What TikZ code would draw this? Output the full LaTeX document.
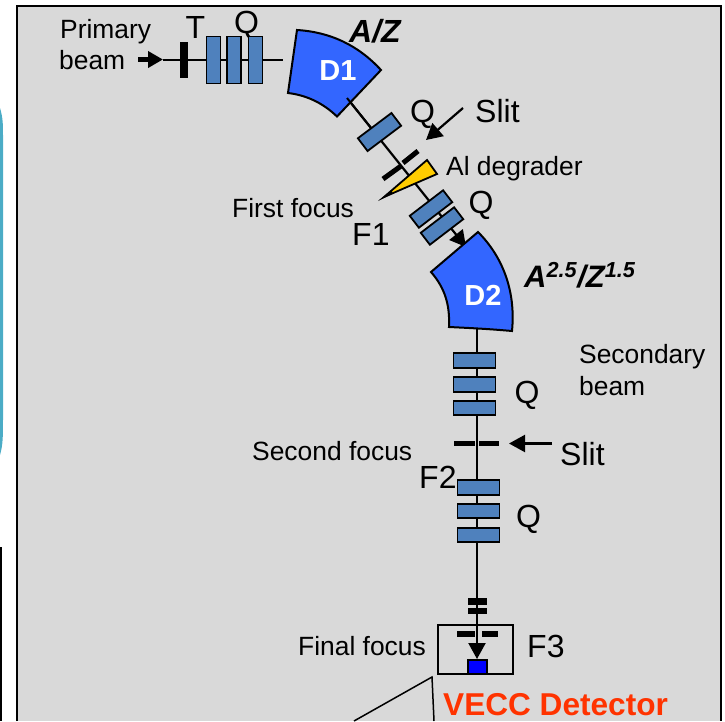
\documentclass[tikz,border=0pt]{standalone}
\usepackage{fontspec}
\setmainfont{Liberation Sans}
\usetikzlibrary{arrows.meta}
\definecolor{panel}{HTML}{D9D9D9}
\definecolor{qblue}{HTML}{4F81BD}
\definecolor{dblue}{HTML}{3366FF}
\definecolor{teal}{HTML}{4BACC6}
\definecolor{vecc}{HTML}{FF3300}
\definecolor{degr}{HTML}{FFCC00}
\tikzset{
  x=1pt,y=-1pt,
  lbl/.style={inner sep=0pt,font=\fontsize{32}{32}\selectfont,text=black},
  lblsm/.style={inner sep=0pt,font=\fontsize{26.4}{26.4}\selectfont,text=black},
  quad/.style={draw=black,line width=1.8pt,fill=qblue,minimum width=#1,minimum height=15,inner sep=0pt},
  quad/.default=43,
  dipole/.style={draw=black,line width=2pt,fill=dblue},
  dlabel/.style={inner sep=0pt,text=white,font=\bfseries\fontsize{29}{29}\selectfont},
  beam/.style={line width=2pt,draw=black},
  arrowline/.style={line width=2.2pt,-{Triangle[length=16pt,width=17pt]}},
}
\begin{document}
\begin{tikzpicture}
\useasboundingbox (0,0) rectangle (725,721);
% neighbours cut by the crop
\fill[teal] (0,108) .. controls (3,118) and (3,125) .. (3,135) -- (3,420) .. controls (3,435) and (3,445) .. (0,455) -- cycle;
\fill[black] (0,547) rectangle (2,721);
% panel
\fill[panel] (17,6) rectangle (721,721);
\draw[black,line width=2pt] (17,721) -- (17,6) -- (721,6) -- (721,721);

% named points on the beam
\coordinate (beamL) at (163,59.5);
\coordinate (beamR) at (283,59.5);
\coordinate (d1out) at (347,98);
\coordinate (d2in) at (466,247);
\coordinate (d2out) at (477,327);
\coordinate (fin) at (477,625);

% beam lines
\draw[beam] (beamL) -- (beamR);
\draw[arrowline] (d1out) -- (d2in);
\draw[beam] (d2out) -- (fin);

% Primary beam arrow
\coordinate (pa) at (138,59.5);
\draw[line width=5pt,-{Triangle[length=15pt,width=16pt,sep=0pt]}] (pa) -- (beamL);
\node[lblsm,anchor=base west] (prim) at (60,38) {Primary};
\node[lblsm,anchor=base west] (bm) at (59,69) {beam};
\node[lbl,anchor=base] (T) at (195.5,38) {T};
\node[lbl,anchor=base] (Q0) at (246.5,33) {Q};
\fill[black] (180,42) rectangle (188,78);
\foreach \n/\x in {a/213.5,b/234,c/255.5}
  \node[quad=14,minimum height=47] (q\n) at (\x,60) {};

% D1
\draw[dipole] (297,30) .. controls (330,32) and (358,45) .. (381,70)
  -- (337,116.5) .. controls (322,102) and (305,95) .. (288,93) -- cycle;
\node[dlabel] (D1) at (338,71) {D1};
\draw[beam] (d1out) -- (372,129);
\node[inner sep=0pt,anchor=base,font=\bfseries\itshape\fontsize{32}{32}\selectfont] (AZ) at (375,42) {A/Z};

% Q after D1
\node[quad=42,minimum height=16,rotate=37] (q1) at (379.5,132) {};
\node[lbl,anchor=base] (Q1) at (422.5,122) {Q};
% slit
\draw[line width=5pt] (383,179) -- (401,166);
\draw[line width=5pt] (403,163) -- (418,151);
\coordinate (slA) at (463,108);
\coordinate (slB) at (426,140);
\draw[arrowline] (slA) -- (slB);
\node[lbl,anchor=base west] (Slit1) at (475,122) {Slit};
% degrader
\draw[fill=degr,draw=black,line width=1.8pt] (427,160) -- (437,174) -- (384,197) -- cycle;
\fill[black] (378,201) -- (392,190) -- (392,194) -- cycle;
\node[lblsm,anchor=base west] (Al) at (446,175) {Al degrader};
\node[lblsm,anchor=base west] (FF) at (232,217) {First focus};
\node[lbl,anchor=base west] (F1) at (352,245) {F1};
% Q pair
\node[quad=42,rotate=37.4] (q2) at (431,209) {};
\node[quad=42,rotate=37.4] (q3) at (442,226) {};
\node[lbl,anchor=base] (Q2) at (481,213) {Q};

% D2
\draw[dipole] (478,232) .. controls (502,256) and (516,290) .. (512,331)
  .. controls (490,329) and (470,328) .. (449,327)
  .. controls (450,305) and (445,288) .. (431,272) -- cycle;
\node[dlabel] (D2) at (483,295) {D2};
\node[inner sep=0pt,anchor=base west,font=\bfseries\itshape\fontsize{31}{31}\selectfont] (AZ2) at (524,287) {A\textsuperscript{2.5}/Z\textsuperscript{1.5}};

% Q triple
\foreach \n/\y in {d/360.5,e/384.5,f/408}
  \node[quad=42,minimum height=14.5] (q\n) at (474.5,\y) {};
\node[lbl,anchor=base] (Q3) at (527,403) {Q};
\node[lblsm,anchor=base west] (Sec) at (579,363) {Secondary};
\node[lblsm,anchor=base west] (Sec2) at (579,395) {beam};
% slit 2
\fill[black] (454,441) rectangle (475,446);
\fill[black] (479,441) rectangle (499,446);
\coordinate (sl2A) at (552,443.5);
\coordinate (sl2B) at (509,443.5);
\draw[arrowline] (sl2A) -- (sl2B);
\node[lbl,anchor=base west] (Slit2) at (560,465) {Slit};
\node[lblsm,anchor=base west] (SF) at (252,460) {Second focus};
\node[lbl,anchor=base west] (F2) at (419,488) {F2};
% Q triple 2
\foreach \n/\y in {g/487.5,h/511,i/535}
  \node[quad=42,minimum height=14.5] (q\n) at (478.5,\y) {};
\node[lbl,anchor=base] (Q4) at (528.5,527) {Q};
% small slits
\fill[black] (468,598) rectangle (487,604.5);
\fill[black] (468,607.5) rectangle (487,614);
% final box
\node[draw=black,line width=2pt,minimum width=75,minimum height=49,inner sep=0pt] (fbox) at (475.5,649.5) {};
\fill[black] (457,631) rectangle (475,637);
\fill[black] (482,631) rectangle (498,637);
\node[draw=black,line width=2pt,fill=blue,minimum width=19,minimum height=14,inner sep=0pt] (detn) at (477,667) {};
\draw[arrowline] (fin) -- (detn.north);
\node[lblsm,anchor=base west] (FinalF) at (298,655) {Final focus};
\node[lbl,anchor=base west] (F3) at (527,657) {F3};
% callout
\coordinate (cA) at (354,721);
\coordinate (cB) at (432,677);
\coordinate (cC) at (434,721);
\draw[line width=1.5pt] (cA) -- (cB) -- (cC);
\node[inner sep=0pt,anchor=base west,text=vecc,font=\bfseries\fontsize{31.6}{31.6}\selectfont] (V) at (443,715) {VECC Detector};
\end{tikzpicture}
\end{document}
